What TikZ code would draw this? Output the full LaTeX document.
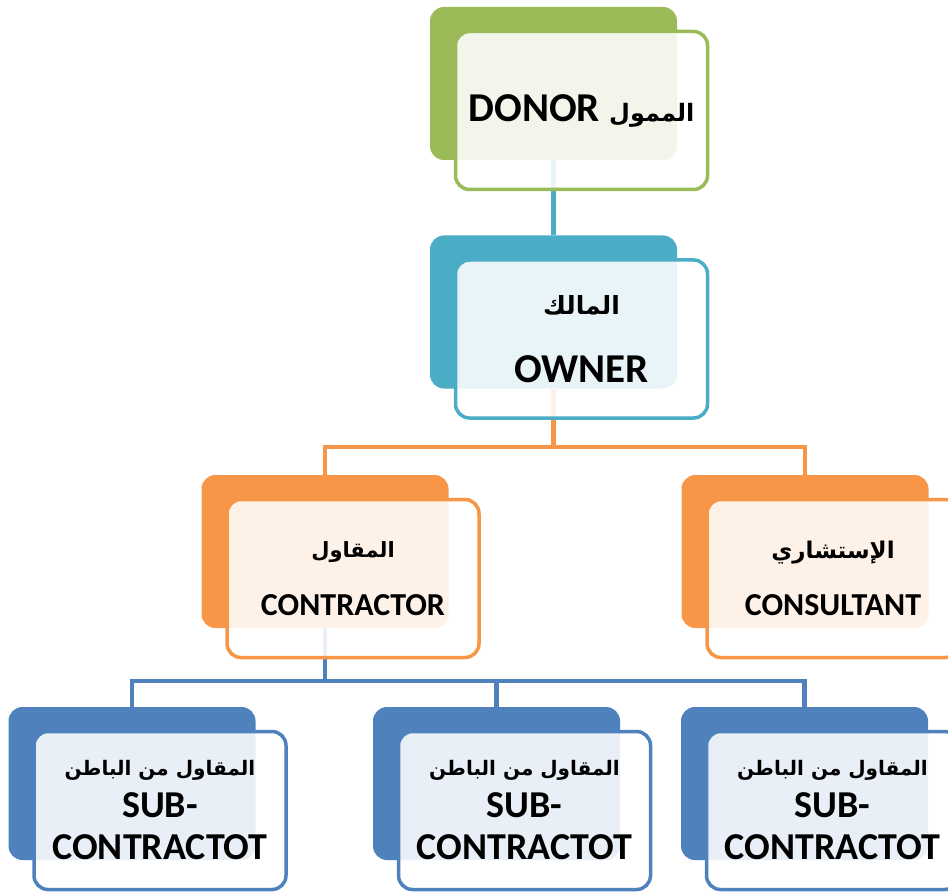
\documentclass[tikz,border=0pt]{standalone}
\usepackage{fontspec}
\setmainfont{Carlito}
\newfontfamily\arabicfont[Script=Arabic]{DejaVu Sans}
\TeXXeTstate=1
\definecolor{donorgreen}{HTML}{9BBB59}
\definecolor{ownerteal}{HTML}{4BACC6}
\definecolor{partyorange}{HTML}{F79646}
\definecolor{subblue}{HTML}{4F81BD}
\newcommand{\arfont}[1]{\arabicfont\bfseries\fontsize{#1}{#1}\selectfont}
\newcommand{\pt}[2]{\fontsize{#1}{#2}\selectfont}

\begin{document}
\begin{tikzpicture}[x=1pt,y=-1pt]
\tikzstyle{back}=[fill=#1,draw=none,rounded corners=14pt,minimum width=247pt,minimum height=153pt,inner sep=0pt]
\tikzstyle{front}=[draw=#1,line width=3.5pt,fill=white,fill opacity=0.88,text opacity=1,rounded corners=14pt,minimum width=252pt,minimum height=158pt,align=center,inner sep=0pt]
\tikzstyle{link}=[draw=#1,line width=4.5pt]
\clip (0,0) rectangle (948,893);

% back boxes
\node[back=donorgreen] (donorB) at (553.5,83.5) {};
\node[back=ownerteal] (ownerB) at (553.5,312) {};
\node[back=partyorange] (contrB) at (325,551.5) {};
\node[back=partyorange] (consB) at (805,551.5) {};
\foreach \i/\x in {1/132,2/496.5,3/804.5}
  \node[back=subblue] (subB\i) at (\x,783.5) {};

% connectors
\coordinate (ownerJ) at (553.5,447);
\coordinate (contrJ) at (325,681);
\draw[link=ownerteal] (donorB.south) -- (ownerB.north);
\draw[link=partyorange] (ownerB.south) -- (ownerJ) -| (contrB.north);
\draw[link=partyorange] (ownerJ) -| (consB.north);
\draw[link=subblue] (contrB.south) -- (contrJ) -| (subB1.north);
\foreach \i in {2,3} \draw[link=subblue] (contrJ) -| (subB\i.north);

% front boxes
\node[front=donorgreen,font=\bfseries\pt{41}{49}] (donor) at ([shift={(28,27)}]donorB.center)
  {DONOR {\arfont{24}\beginR الممول\endR}};
\node[front=ownerteal,font=\bfseries\pt{41}{47}] (owner) at ([shift={(28,27)}]ownerB.center)
  {{\arfont{25}\beginR المالك\endR}\\[21pt] OWNER};
\node[front=partyorange,font=\bfseries\pt{32}{41}] (contr) at ([shift={(28,27)}]contrB.center)
  {{\arfont{21}\beginR المقاول\endR}\\[17pt] CONTRACTOR};
\node[front=partyorange,font=\bfseries\pt{32}{39}] (cons) at ([shift={(28,27)}]consB.center)
  {{\arfont{23}\beginR الإستشاري\endR}\\[18pt] CONSULTANT};
\foreach \i in {1,2,3}
  \node[front=subblue,font=\bfseries\pt{38}{42}] (sub\i) at ([shift={(28,27)}]subB\i.center)
    {{\arfont{20}\beginR المقاول من الباطن\endR}\\ SUB-\\ CONTRACTOT};
\end{tikzpicture}
\end{document}
